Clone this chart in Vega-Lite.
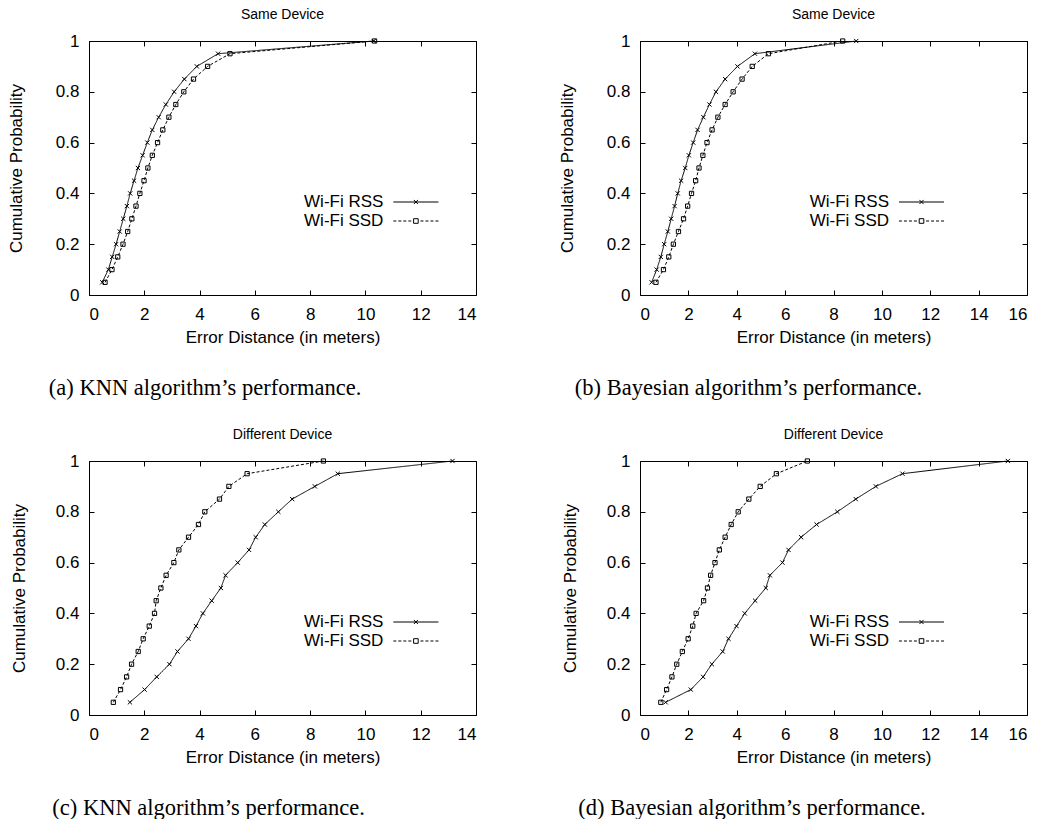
{
  "$schema": "https://vega.github.io/schema/vega-lite/v6.json",
  "background": "white",
  "padding": {"left": 6, "top": 7, "right": 5, "bottom": 5},
  "config": {
    "font": "Liberation Sans",
    "view": {"stroke": "black", "strokeWidth": 1},
    "axis": {"domain": false, "grid": false, "ticks": true, "tickSize": -5, "tickColor": "black", "tickWidth": 1,
      "labelFont": "Liberation Sans", "labelFontSize": 17, "labelColor": "black",
      "titleFont": "Liberation Sans", "titleFontSize": 17, "titleFontWeight": "normal", "titleColor": "black"},
    "axisX": {"labelPadding": 16, "titlePadding": 7},
    "axisY": {"labelPadding": 15, "titlePadding": 30},
    "legend": {"orient": "none", "title": null, "labelAlign": "right", "labelOffset": -41,
      "labelFont": "Liberation Sans", "labelFontSize": 17, "labelColor": "black",
      "symbolStrokeColor": "black", "symbolStrokeWidth": 1, "symbolFillColor": "transparent", "symbolSize": 21.16,
      "rowPadding": 1, "padding": 0, "legendY": 152.5},
    "title": {"font": "Liberation Sans", "fontSize": 14, "fontWeight": "normal", "color": "black"}
  },
  "datasets": {
    "a": [
      {"series": "Wi-Fi RSS", "x": 0.48, "p": 0.05}, {"series": "Wi-Fi RSS", "x": 0.70, "p": 0.10}, {"series": "Wi-Fi RSS", "x": 0.84, "p": 0.15}, {"series": "Wi-Fi RSS", "x": 0.98, "p": 0.20},
      {"series": "Wi-Fi RSS", "x": 1.11, "p": 0.25}, {"series": "Wi-Fi RSS", "x": 1.24, "p": 0.30}, {"series": "Wi-Fi RSS", "x": 1.37, "p": 0.35}, {"series": "Wi-Fi RSS", "x": 1.49, "p": 0.40},
      {"series": "Wi-Fi RSS", "x": 1.63, "p": 0.45}, {"series": "Wi-Fi RSS", "x": 1.77, "p": 0.50}, {"series": "Wi-Fi RSS", "x": 1.94, "p": 0.55}, {"series": "Wi-Fi RSS", "x": 2.11, "p": 0.60},
      {"series": "Wi-Fi RSS", "x": 2.29, "p": 0.65}, {"series": "Wi-Fi RSS", "x": 2.52, "p": 0.70}, {"series": "Wi-Fi RSS", "x": 2.78, "p": 0.75}, {"series": "Wi-Fi RSS", "x": 3.08, "p": 0.80},
      {"series": "Wi-Fi RSS", "x": 3.45, "p": 0.85}, {"series": "Wi-Fi RSS", "x": 3.90, "p": 0.90}, {"series": "Wi-Fi RSS", "x": 4.67, "p": 0.95}, {"series": "Wi-Fi RSS", "x": 10.30, "p": 1.00},
      {"series": "Wi-Fi SSD", "x": 0.58, "p": 0.05}, {"series": "Wi-Fi SSD", "x": 0.83, "p": 0.10}, {"series": "Wi-Fi SSD", "x": 1.04, "p": 0.15}, {"series": "Wi-Fi SSD", "x": 1.23, "p": 0.20},
      {"series": "Wi-Fi SSD", "x": 1.40, "p": 0.25}, {"series": "Wi-Fi SSD", "x": 1.55, "p": 0.30}, {"series": "Wi-Fi SSD", "x": 1.70, "p": 0.35}, {"series": "Wi-Fi SSD", "x": 1.84, "p": 0.40},
      {"series": "Wi-Fi SSD", "x": 1.99, "p": 0.45}, {"series": "Wi-Fi SSD", "x": 2.13, "p": 0.50}, {"series": "Wi-Fi SSD", "x": 2.29, "p": 0.55}, {"series": "Wi-Fi SSD", "x": 2.48, "p": 0.60},
      {"series": "Wi-Fi SSD", "x": 2.67, "p": 0.65}, {"series": "Wi-Fi SSD", "x": 2.89, "p": 0.70}, {"series": "Wi-Fi SSD", "x": 3.14, "p": 0.75}, {"series": "Wi-Fi SSD", "x": 3.43, "p": 0.80},
      {"series": "Wi-Fi SSD", "x": 3.78, "p": 0.85}, {"series": "Wi-Fi SSD", "x": 4.29, "p": 0.90}, {"series": "Wi-Fi SSD", "x": 5.10, "p": 0.95}, {"series": "Wi-Fi SSD", "x": 10.33, "p": 1.00}
    ],
    "b": [
      {"series": "Wi-Fi RSS", "x": 0.48, "p": 0.05}, {"series": "Wi-Fi RSS", "x": 0.69, "p": 0.10}, {"series": "Wi-Fi RSS", "x": 0.86, "p": 0.15}, {"series": "Wi-Fi RSS", "x": 1.00, "p": 0.20},
      {"series": "Wi-Fi RSS", "x": 1.15, "p": 0.25}, {"series": "Wi-Fi RSS", "x": 1.29, "p": 0.30}, {"series": "Wi-Fi RSS", "x": 1.43, "p": 0.35}, {"series": "Wi-Fi RSS", "x": 1.56, "p": 0.40},
      {"series": "Wi-Fi RSS", "x": 1.70, "p": 0.45}, {"series": "Wi-Fi RSS", "x": 1.87, "p": 0.50}, {"series": "Wi-Fi RSS", "x": 2.02, "p": 0.55}, {"series": "Wi-Fi RSS", "x": 2.20, "p": 0.60},
      {"series": "Wi-Fi RSS", "x": 2.38, "p": 0.65}, {"series": "Wi-Fi RSS", "x": 2.62, "p": 0.70}, {"series": "Wi-Fi RSS", "x": 2.87, "p": 0.75}, {"series": "Wi-Fi RSS", "x": 3.14, "p": 0.80},
      {"series": "Wi-Fi RSS", "x": 3.52, "p": 0.85}, {"series": "Wi-Fi RSS", "x": 4.03, "p": 0.90}, {"series": "Wi-Fi RSS", "x": 4.75, "p": 0.95}, {"series": "Wi-Fi RSS", "x": 8.94, "p": 1.00},
      {"series": "Wi-Fi SSD", "x": 0.66, "p": 0.05}, {"series": "Wi-Fi SSD", "x": 0.97, "p": 0.10}, {"series": "Wi-Fi SSD", "x": 1.19, "p": 0.15}, {"series": "Wi-Fi SSD", "x": 1.38, "p": 0.20},
      {"series": "Wi-Fi SSD", "x": 1.59, "p": 0.25}, {"series": "Wi-Fi SSD", "x": 1.80, "p": 0.30}, {"series": "Wi-Fi SSD", "x": 1.97, "p": 0.35}, {"series": "Wi-Fi SSD", "x": 2.13, "p": 0.40},
      {"series": "Wi-Fi SSD", "x": 2.30, "p": 0.45}, {"series": "Wi-Fi SSD", "x": 2.44, "p": 0.50}, {"series": "Wi-Fi SSD", "x": 2.60, "p": 0.55}, {"series": "Wi-Fi SSD", "x": 2.77, "p": 0.60},
      {"series": "Wi-Fi SSD", "x": 2.98, "p": 0.65}, {"series": "Wi-Fi SSD", "x": 3.22, "p": 0.70}, {"series": "Wi-Fi SSD", "x": 3.52, "p": 0.75}, {"series": "Wi-Fi SSD", "x": 3.85, "p": 0.80},
      {"series": "Wi-Fi SSD", "x": 4.22, "p": 0.85}, {"series": "Wi-Fi SSD", "x": 4.64, "p": 0.90}, {"series": "Wi-Fi SSD", "x": 5.31, "p": 0.95}, {"series": "Wi-Fi SSD", "x": 8.38, "p": 1.00}
    ],
    "c": [
      {"series": "Wi-Fi RSS", "x": 1.48, "p": 0.05}, {"series": "Wi-Fi RSS", "x": 2.01, "p": 0.10}, {"series": "Wi-Fi RSS", "x": 2.45, "p": 0.15}, {"series": "Wi-Fi RSS", "x": 2.91, "p": 0.20},
      {"series": "Wi-Fi RSS", "x": 3.20, "p": 0.25}, {"series": "Wi-Fi RSS", "x": 3.60, "p": 0.30}, {"series": "Wi-Fi RSS", "x": 3.87, "p": 0.35}, {"series": "Wi-Fi RSS", "x": 4.12, "p": 0.40},
      {"series": "Wi-Fi RSS", "x": 4.44, "p": 0.45}, {"series": "Wi-Fi RSS", "x": 4.77, "p": 0.50}, {"series": "Wi-Fi RSS", "x": 4.94, "p": 0.55}, {"series": "Wi-Fi RSS", "x": 5.38, "p": 0.60},
      {"series": "Wi-Fi RSS", "x": 5.79, "p": 0.65}, {"series": "Wi-Fi RSS", "x": 6.03, "p": 0.70}, {"series": "Wi-Fi RSS", "x": 6.36, "p": 0.75}, {"series": "Wi-Fi RSS", "x": 6.85, "p": 0.80},
      {"series": "Wi-Fi RSS", "x": 7.35, "p": 0.85}, {"series": "Wi-Fi RSS", "x": 8.17, "p": 0.90}, {"series": "Wi-Fi RSS", "x": 9.00, "p": 0.95}, {"series": "Wi-Fi RSS", "x": 13.15, "p": 1.00},
      {"series": "Wi-Fi SSD", "x": 0.88, "p": 0.05}, {"series": "Wi-Fi SSD", "x": 1.14, "p": 0.10}, {"series": "Wi-Fi SSD", "x": 1.36, "p": 0.15}, {"series": "Wi-Fi SSD", "x": 1.54, "p": 0.20},
      {"series": "Wi-Fi SSD", "x": 1.78, "p": 0.25}, {"series": "Wi-Fi SSD", "x": 1.96, "p": 0.30}, {"series": "Wi-Fi SSD", "x": 2.18, "p": 0.35}, {"series": "Wi-Fi SSD", "x": 2.37, "p": 0.40},
      {"series": "Wi-Fi SSD", "x": 2.43, "p": 0.45}, {"series": "Wi-Fi SSD", "x": 2.60, "p": 0.50}, {"series": "Wi-Fi SSD", "x": 2.79, "p": 0.55}, {"series": "Wi-Fi SSD", "x": 3.07, "p": 0.60},
      {"series": "Wi-Fi SSD", "x": 3.25, "p": 0.65}, {"series": "Wi-Fi SSD", "x": 3.60, "p": 0.70}, {"series": "Wi-Fi SSD", "x": 3.96, "p": 0.75}, {"series": "Wi-Fi SSD", "x": 4.19, "p": 0.80},
      {"series": "Wi-Fi SSD", "x": 4.72, "p": 0.85}, {"series": "Wi-Fi SSD", "x": 5.06, "p": 0.90}, {"series": "Wi-Fi SSD", "x": 5.72, "p": 0.95}, {"series": "Wi-Fi SSD", "x": 8.48, "p": 1.00}
    ],
    "d": [
      {"series": "Wi-Fi RSS", "x": 1.06, "p": 0.05}, {"series": "Wi-Fi RSS", "x": 2.10, "p": 0.10}, {"series": "Wi-Fi RSS", "x": 2.61, "p": 0.15}, {"series": "Wi-Fi RSS", "x": 2.97, "p": 0.20},
      {"series": "Wi-Fi RSS", "x": 3.42, "p": 0.25}, {"series": "Wi-Fi RSS", "x": 3.66, "p": 0.30}, {"series": "Wi-Fi RSS", "x": 3.99, "p": 0.35}, {"series": "Wi-Fi RSS", "x": 4.33, "p": 0.40},
      {"series": "Wi-Fi RSS", "x": 4.76, "p": 0.45}, {"series": "Wi-Fi RSS", "x": 5.20, "p": 0.50}, {"series": "Wi-Fi RSS", "x": 5.37, "p": 0.55}, {"series": "Wi-Fi RSS", "x": 5.89, "p": 0.60},
      {"series": "Wi-Fi RSS", "x": 6.14, "p": 0.65}, {"series": "Wi-Fi RSS", "x": 6.66, "p": 0.70}, {"series": "Wi-Fi RSS", "x": 7.30, "p": 0.75}, {"series": "Wi-Fi RSS", "x": 8.16, "p": 0.80},
      {"series": "Wi-Fi RSS", "x": 8.92, "p": 0.85}, {"series": "Wi-Fi RSS", "x": 9.75, "p": 0.90}, {"series": "Wi-Fi RSS", "x": 10.85, "p": 0.95}, {"series": "Wi-Fi RSS", "x": 15.21, "p": 1.00},
      {"series": "Wi-Fi SSD", "x": 0.86, "p": 0.05}, {"series": "Wi-Fi SSD", "x": 1.10, "p": 0.10}, {"series": "Wi-Fi SSD", "x": 1.32, "p": 0.15}, {"series": "Wi-Fi SSD", "x": 1.52, "p": 0.20},
      {"series": "Wi-Fi SSD", "x": 1.75, "p": 0.25}, {"series": "Wi-Fi SSD", "x": 1.99, "p": 0.30}, {"series": "Wi-Fi SSD", "x": 2.18, "p": 0.35}, {"series": "Wi-Fi SSD", "x": 2.32, "p": 0.40},
      {"series": "Wi-Fi SSD", "x": 2.63, "p": 0.45}, {"series": "Wi-Fi SSD", "x": 2.79, "p": 0.50}, {"series": "Wi-Fi SSD", "x": 2.92, "p": 0.55}, {"series": "Wi-Fi SSD", "x": 3.10, "p": 0.60},
      {"series": "Wi-Fi SSD", "x": 3.28, "p": 0.65}, {"series": "Wi-Fi SSD", "x": 3.52, "p": 0.70}, {"series": "Wi-Fi SSD", "x": 3.77, "p": 0.75}, {"series": "Wi-Fi SSD", "x": 4.06, "p": 0.80},
      {"series": "Wi-Fi SSD", "x": 4.50, "p": 0.85}, {"series": "Wi-Fi SSD", "x": 4.97, "p": 0.90}, {"series": "Wi-Fi SSD", "x": 5.64, "p": 0.95}, {"series": "Wi-Fi SSD", "x": 6.92, "p": 1.00}
    ]
  },
  "spacing": 28,
  "vconcat": [
    {
      "spacing": 80,
      "hconcat": [
        {
          "title": {"text": "(a)  KNN algorithm’s performance.", "orient": "bottom", "font": "Liberation Serif", "fontSize": 22.5, "anchor": "start", "offset": 31, "dx": 42},
          "vconcat": [{
            "title": {"text": "Same Device", "offset": 10},
            "width": 387, "height": 254,
            "data": {"name": "a"},
            "layer": [
              {"mark": {"type": "line", "color": "black", "strokeWidth": 1},
               "encoding": {
                 "x": {"field": "x", "type": "quantitative", "scale": {"domain": [0, 14], "nice": false}, "axis": {"orient": "bottom", "values": [0, 2, 4, 6, 8, 10, 12, 14], "title": "Error Distance (in meters)"}},
                 "y": {"field": "p", "type": "quantitative", "scale": {"domain": [0, 1], "nice": false}, "axis": {"orient": "left", "values": [0, 0.2, 0.4, 0.6, 0.8, 1], "format": "~g", "title": "Cumulative Probability"}},
                 "strokeDash": {"field": "series", "type": "nominal", "scale": {"domain": ["Wi-Fi RSS", "Wi-Fi SSD"], "range": [[1, 0], [3, 2]]}, "legend": null}
               }},
              {"mark": {"type": "point", "filled": false, "color": "black", "strokeWidth": 1, "size": 18, "opacity": 1},
               "encoding": {
                 "x": {"field": "x", "type": "quantitative", "axis": {"orient": "top", "values": [0, 2, 4, 6, 8, 10, 12, 14], "labels": false, "title": null}},
                 "y": {"field": "p", "type": "quantitative", "axis": {"orient": "right", "values": [0, 0.2, 0.4, 0.6, 0.8, 1], "labels": false, "title": null}},
                 "shape": {"field": "series", "type": "nominal", "scale": {"domain": ["Wi-Fi RSS", "Wi-Fi SSD"], "range": ["M-1,-1L1,1M1,-1L-1,1", "square"]}, "legend": null}
               }},
              {"transform": [{"filter": "datum.p > 1"}],
               "mark": {"type": "point", "filled": false, "color": "black", "strokeWidth": 1, "size": 21.16, "opacity": 1},
               "encoding": {
                 "shape": {"field": "series", "type": "nominal", "scale": {"domain": ["Wi-Fi RSS", "Wi-Fi SSD"], "range": ["M-9.8,0H9.8M-0.9,-0.9L0.9,0.9M0.9,-0.9L-0.9,0.9", "M-9.8,0H-8.5M-7.63,0H-6.33M-5.46,0H-4.16M-3.29,0H-1.99M-1,-1H1V1H-1ZM1.99,0H3.29M4.16,0H5.46M6.33,0H7.63M8.5,0H9.8"]}, "legend": {"legendX": 318.4}}
               }}
            ],
            "resolve": {"axis": {"x": "independent", "y": "independent"}, "scale": {"shape": "independent"}}
          }]
        },
        {
          "title": {"text": "(b)  Bayesian algorithm’s performance.", "orient": "bottom", "font": "Liberation Serif", "fontSize": 22.5, "anchor": "start", "offset": 31, "dx": 17},
          "vconcat": [{
            "title": {"text": "Same Device", "offset": 10},
            "width": 387, "height": 254,
            "data": {"name": "b"},
            "layer": [
              {"mark": {"type": "line", "color": "black", "strokeWidth": 1},
               "encoding": {
                 "x": {"field": "x", "type": "quantitative", "scale": {"domain": [0, 16], "nice": false}, "axis": {"orient": "bottom", "values": [0, 2, 4, 6, 8, 10, 12, 14, 16], "title": "Error Distance (in meters)"}},
                 "y": {"field": "p", "type": "quantitative", "scale": {"domain": [0, 1], "nice": false}, "axis": {"orient": "left", "values": [0, 0.2, 0.4, 0.6, 0.8, 1], "format": "~g", "title": "Cumulative Probability"}},
                 "strokeDash": {"field": "series", "type": "nominal", "scale": {"domain": ["Wi-Fi RSS", "Wi-Fi SSD"], "range": [[1, 0], [3, 2]]}, "legend": null}
               }},
              {"mark": {"type": "point", "filled": false, "color": "black", "strokeWidth": 1, "size": 18, "opacity": 1},
               "encoding": {
                 "x": {"field": "x", "type": "quantitative", "axis": {"orient": "top", "values": [0, 2, 4, 6, 8, 10, 12, 14, 16], "labels": false, "title": null}},
                 "y": {"field": "p", "type": "quantitative", "axis": {"orient": "right", "values": [0, 0.2, 0.4, 0.6, 0.8, 1], "labels": false, "title": null}},
                 "shape": {"field": "series", "type": "nominal", "scale": {"domain": ["Wi-Fi RSS", "Wi-Fi SSD"], "range": ["M-1,-1L1,1M1,-1L-1,1", "square"]}, "legend": null}
               }},
              {"transform": [{"filter": "datum.p > 1"}],
               "mark": {"type": "point", "filled": false, "color": "black", "strokeWidth": 1, "size": 21.16, "opacity": 1},
               "encoding": {
                 "shape": {"field": "series", "type": "nominal", "scale": {"domain": ["Wi-Fi RSS", "Wi-Fi SSD"], "range": ["M-9.8,0H9.8M-0.9,-0.9L0.9,0.9M0.9,-0.9L-0.9,0.9", "M-9.8,0H-8.5M-7.63,0H-6.33M-5.46,0H-4.16M-3.29,0H-1.99M-1,-1H1V1H-1ZM1.99,0H3.29M4.16,0H5.46M6.33,0H7.63M8.5,0H9.8"]}, "legend": {"legendX": 273}}
               }}
            ],
            "resolve": {"axis": {"x": "independent", "y": "independent"}, "scale": {"shape": "independent"}}
          }]
        }
      ]
    },
    {
      "spacing": 84,
      "hconcat": [
        {
          "title": {"text": "(c)  KNN algorithm’s performance.", "orient": "bottom", "font": "Liberation Serif", "fontSize": 22.5, "anchor": "start", "offset": 31, "dx": 42},
          "vconcat": [{
            "title": {"text": "Different Device", "offset": 10},
            "width": 387, "height": 254,
            "data": {"name": "c"},
            "layer": [
              {"mark": {"type": "line", "color": "black", "strokeWidth": 1},
               "encoding": {
                 "x": {"field": "x", "type": "quantitative", "scale": {"domain": [0, 14], "nice": false}, "axis": {"orient": "bottom", "values": [0, 2, 4, 6, 8, 10, 12, 14], "title": "Error Distance (in meters)"}},
                 "y": {"field": "p", "type": "quantitative", "scale": {"domain": [0, 1], "nice": false}, "axis": {"orient": "left", "values": [0, 0.2, 0.4, 0.6, 0.8, 1], "format": "~g", "title": "Cumulative Probability", "titlePadding": 26.5}},
                 "strokeDash": {"field": "series", "type": "nominal", "scale": {"domain": ["Wi-Fi RSS", "Wi-Fi SSD"], "range": [[1, 0], [3, 2]]}, "legend": null}
               }},
              {"mark": {"type": "point", "filled": false, "color": "black", "strokeWidth": 1, "size": 18, "opacity": 1},
               "encoding": {
                 "x": {"field": "x", "type": "quantitative", "axis": {"orient": "top", "values": [0, 2, 4, 6, 8, 10, 12, 14], "labels": false, "title": null}},
                 "y": {"field": "p", "type": "quantitative", "axis": {"orient": "right", "values": [0, 0.2, 0.4, 0.6, 0.8, 1], "labels": false, "title": null}},
                 "shape": {"field": "series", "type": "nominal", "scale": {"domain": ["Wi-Fi RSS", "Wi-Fi SSD"], "range": ["M-1,-1L1,1M1,-1L-1,1", "square"]}, "legend": null}
               }},
              {"transform": [{"filter": "datum.p > 1"}],
               "mark": {"type": "point", "filled": false, "color": "black", "strokeWidth": 1, "size": 21.16, "opacity": 1},
               "encoding": {
                 "shape": {"field": "series", "type": "nominal", "scale": {"domain": ["Wi-Fi RSS", "Wi-Fi SSD"], "range": ["M-9.8,0H9.8M-0.9,-0.9L0.9,0.9M0.9,-0.9L-0.9,0.9", "M-9.8,0H-8.5M-7.63,0H-6.33M-5.46,0H-4.16M-3.29,0H-1.99M-1,-1H1V1H-1ZM1.99,0H3.29M4.16,0H5.46M6.33,0H7.63M8.5,0H9.8"]}, "legend": {"legendX": 318.4}}
               }}
            ],
            "resolve": {"axis": {"x": "independent", "y": "independent"}, "scale": {"shape": "independent"}}
          }]
        },
        {
          "title": {"text": "(d)  Bayesian algorithm’s performance.", "orient": "bottom", "font": "Liberation Serif", "fontSize": 22.5, "anchor": "start", "offset": 31, "dx": 17},
          "vconcat": [{
            "title": {"text": "Different Device", "offset": 10},
            "width": 387, "height": 254,
            "data": {"name": "d"},
            "layer": [
              {"mark": {"type": "line", "color": "black", "strokeWidth": 1},
               "encoding": {
                 "x": {"field": "x", "type": "quantitative", "scale": {"domain": [0, 16], "nice": false}, "axis": {"orient": "bottom", "values": [0, 2, 4, 6, 8, 10, 12, 14, 16], "title": "Error Distance (in meters)"}},
                 "y": {"field": "p", "type": "quantitative", "scale": {"domain": [0, 1], "nice": false}, "axis": {"orient": "left", "values": [0, 0.2, 0.4, 0.6, 0.8, 1], "format": "~g", "title": "Cumulative Probability", "titlePadding": 26.5}},
                 "strokeDash": {"field": "series", "type": "nominal", "scale": {"domain": ["Wi-Fi RSS", "Wi-Fi SSD"], "range": [[1, 0], [3, 2]]}, "legend": null}
               }},
              {"mark": {"type": "point", "filled": false, "color": "black", "strokeWidth": 1, "size": 18, "opacity": 1},
               "encoding": {
                 "x": {"field": "x", "type": "quantitative", "axis": {"orient": "top", "values": [0, 2, 4, 6, 8, 10, 12, 14, 16], "labels": false, "title": null}},
                 "y": {"field": "p", "type": "quantitative", "axis": {"orient": "right", "values": [0, 0.2, 0.4, 0.6, 0.8, 1], "labels": false, "title": null}},
                 "shape": {"field": "series", "type": "nominal", "scale": {"domain": ["Wi-Fi RSS", "Wi-Fi SSD"], "range": ["M-1,-1L1,1M1,-1L-1,1", "square"]}, "legend": null}
               }},
              {"transform": [{"filter": "datum.p > 1"}],
               "mark": {"type": "point", "filled": false, "color": "black", "strokeWidth": 1, "size": 21.16, "opacity": 1},
               "encoding": {
                 "shape": {"field": "series", "type": "nominal", "scale": {"domain": ["Wi-Fi RSS", "Wi-Fi SSD"], "range": ["M-9.8,0H9.8M-0.9,-0.9L0.9,0.9M0.9,-0.9L-0.9,0.9", "M-9.8,0H-8.5M-7.63,0H-6.33M-5.46,0H-4.16M-3.29,0H-1.99M-1,-1H1V1H-1ZM1.99,0H3.29M4.16,0H5.46M6.33,0H7.63M8.5,0H9.8"]}, "legend": {"legendX": 273}}
               }}
            ],
            "resolve": {"axis": {"x": "independent", "y": "independent"}, "scale": {"shape": "independent"}}
          }]
        }
      ]
    }
  ]
}
